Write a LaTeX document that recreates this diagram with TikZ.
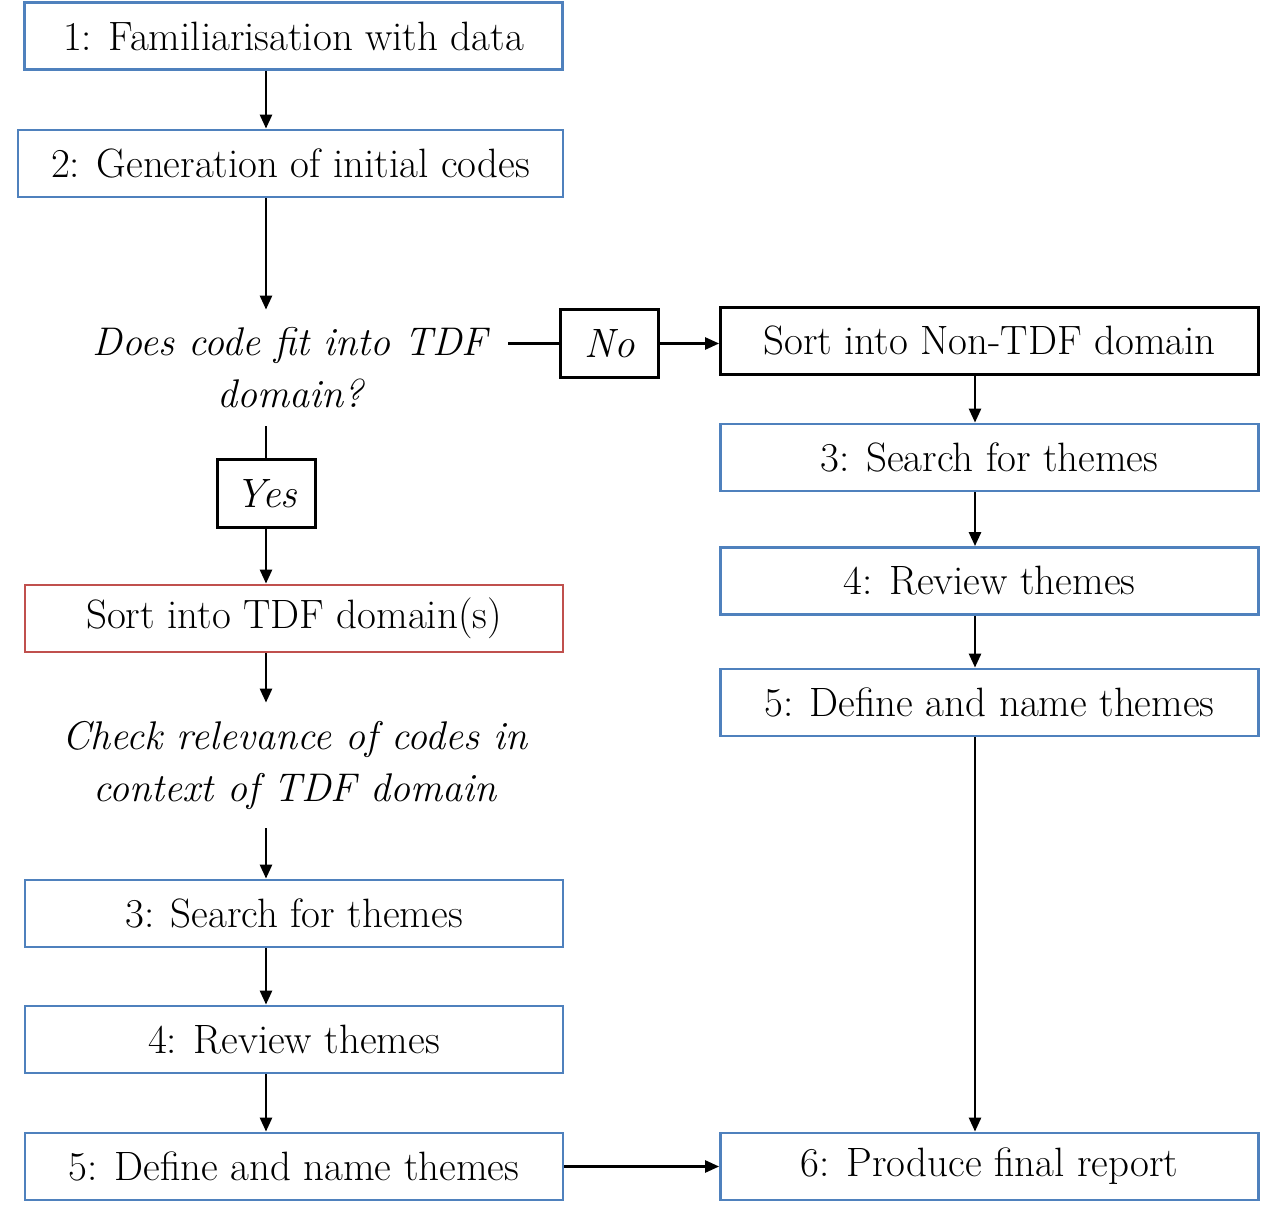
\documentclass[tikz,border=0pt]{standalone}
\usetikzlibrary{arrows.meta}
\definecolor{boxblue}{HTML}{4F81BD}
\definecolor{boxred}{HTML}{C0504D}
\begin{document}
\begin{tikzpicture}[x=0.5pt,y=-0.5pt,font=\fontsize{20.5}{26}\selectfont,
  >={Triangle[length=7pt,width=6pt]},
  stage/.style={draw=boxblue,line width=1.4pt,minimum width=269pt,minimum height=33.5pt,inner sep=0pt},
  redstage/.style={stage,draw=boxred},
  blackstage/.style={stage,draw=black},
  answer/.style={draw,line width=1.4pt,minimum width=49pt,minimum height=34pt,inner sep=0pt,font=\fontsize{20.5}{26}\selectfont\itshape},
  question/.style={align=center,inner sep=0pt,font=\fontsize{20}{26}\selectfont\itshape},
  flow/.style={line width=1.3pt}]
\useasboundingbox (0,0) rectangle (1280,1213);
\coordinate (lx) at (266,0);
\coordinate (rx) at (975,0);
\node[stage] (fam) at (293.5,36) {1: Familiarisation with data};
\node[stage,minimum width=272.5pt] (gen) at (290.5,163.5) {2: Generation of initial codes};
\node[question,minimum width=218pt,minimum height=58pt] (fit) at (290,368) {Does code fit into TDF\\domain?};
\node[answer] (no) at (609.5,343.5) {No};
\node[blackstage] (nontdf) at (989.5,341) {Sort into Non-TDF domain};
\node[answer] (yes) at (266.5,493.5) {Yes};
\node[redstage] (tdf) at (294,618.5) {Sort into TDF domain(s)};
\node[question,minimum width=240pt,minimum height=62.5pt] (check) at (295,765.5) {Check relevance of codes in\\context of TDF domain};
\node[stage] (lsearch) at (294,913.5) {3: Search for themes};
\node[stage] (lreview) at (294,1039.5) {4: Review themes};
\node[stage] (ldefine) at (294,1166.5) {5: Define and name themes};
\node[stage] (rsearch) at (989.5,457.5) {3: Search for themes};
\node[stage] (rreview) at (989.5,581) {4: Review themes};
\node[stage] (rdefine) at (989.5,702.5) {5: Define and name themes};
\node[stage] (report) at (989.5,1166.5) {6: Produce final report};
\draw[->,flow] (fam.south -| lx) -- (gen.north -| lx);
\draw[->,flow] (gen.south -| lx) -- (fit.north -| lx);
\draw[flow] (no.west) -- (no.west -| fit.east);
\draw[->,flow] (no.east) -- (nontdf.west |- no.east);
\draw[flow] (fit.south -| lx) -- (yes.north -| lx);
\draw[->,flow] (yes.south -| lx) -- (tdf.north -| lx);
\draw[->,flow] (tdf.south -| lx) -- (check.north -| lx);
\draw[->,flow] (check.south -| lx) -- (lsearch.north -| lx);
\draw[->,flow] (lsearch.south -| lx) -- (lreview.north -| lx);
\draw[->,flow] (lreview.south -| lx) -- (ldefine.north -| lx);
\draw[->,flow] (ldefine.east) -- (report.west);
\draw[->,flow] (nontdf.south -| rx) -- (rsearch.north -| rx);
\draw[->,flow] (rsearch.south -| rx) -- (rreview.north -| rx);
\draw[->,flow] (rreview.south -| rx) -- (rdefine.north -| rx);
\draw[->,flow] (rdefine.south -| rx) -- (report.north -| rx);
\end{tikzpicture}
\end{document}
